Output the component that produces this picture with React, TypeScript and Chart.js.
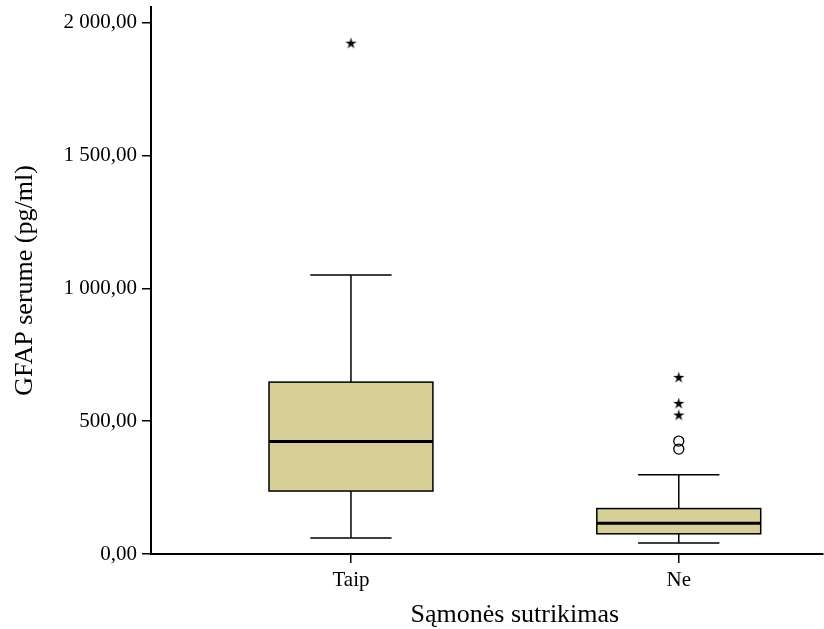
import React, { useEffect, useRef } from 'react';
import { Chart, registerables } from 'chart.js';

Chart.register(...registerables);

// ---- Data ----
const categories = ['Taip', 'Ne'];
const whiskerLow = [60, 41];
const q1 = [237, 76];
const median = [423, 116];
const q3 = [647, 171];
const whiskerHigh = [1050, 298];
const circleOutliersTaip: number[] = [];
const circleOutliersNe = [395, 425];
const starOutliersTaip = [1923];
const starOutliersNe = [523, 567, 665];
const yTickValues = [0, 500, 1000, 1500, 2000];
const yTickLabels = ['0,00', '500,00', '1 000,00', '1 500,00', '2 000,00'];
const xTitle = 'Sąmonės sutrikimas';
const yTitle = 'GFAP serume (pg/ml)';

// ---- Styles ----
const FONT = "'Liberation Serif', 'Times New Roman', serif";
const BOX_COLOR = '#D6D098';
const BOX_HALF = 0.25;
const CAP_HALF = 0.124;

const boxPlugin = {
  id: 'boxes',
  beforeDatasetsDraw(chart: any) {
    const { ctx, scales } = chart;
    const x = scales.x;
    const y = scales.y;
    ctx.save();
    categories.forEach((_, i) => {
      const pos = i + 1;
      const cx = x.getPixelForValue(pos);
      const hw = x.getPixelForValue(pos + BOX_HALF) - cx;
      const cw = x.getPixelForValue(pos + CAP_HALF) - cx;
      const yLo = y.getPixelForValue(whiskerLow[i]);
      const yQ1 = y.getPixelForValue(q1[i]);
      const yMed = y.getPixelForValue(median[i]);
      const yQ3 = y.getPixelForValue(q3[i]);
      const yHi = y.getPixelForValue(whiskerHigh[i]);

      ctx.strokeStyle = '#000';
      ctx.lineWidth = 1.5;
      ctx.beginPath();
      ctx.moveTo(cx, yLo);
      ctx.lineTo(cx, yQ1);
      ctx.moveTo(cx, yQ3);
      ctx.lineTo(cx, yHi);
      ctx.moveTo(cx - cw, yLo);
      ctx.lineTo(cx + cw, yLo);
      ctx.moveTo(cx - cw, yHi);
      ctx.lineTo(cx + cw, yHi);
      ctx.stroke();

      ctx.fillStyle = BOX_COLOR;
      ctx.fillRect(cx - hw, yQ3, 2 * hw, yQ1 - yQ3);
      ctx.strokeRect(cx - hw, yQ3, 2 * hw, yQ1 - yQ3);

      ctx.lineWidth = 3;
      ctx.beginPath();
      ctx.moveTo(cx - hw, yMed);
      ctx.lineTo(cx + hw, yMed);
      ctx.stroke();
    });
    ctx.restore();
  },
  afterDraw(chart: any) {
    // x-axis title centred between the two categories
    const { ctx, scales } = chart;
    const x = scales.x;
    const cx = x.getPixelForValue((1 + categories.length) / 2);
    ctx.save();
    ctx.font = `26px ${FONT}`;
    ctx.fillStyle = '#000';
    ctx.textAlign = 'center';
    ctx.textBaseline = 'middle';
    ctx.fillText(xTitle, cx, x.bottom - 14);
    ctx.restore();
  },
};

function makeStar(): HTMLCanvasElement {
  const c = document.createElement('canvas');
  c.width = 13;
  c.height = 13;
  const g = c.getContext('2d')!;
  const R = 6;
  const r = 2.1;
  g.fillStyle = '#000';
  g.beginPath();
  for (let k = 0; k < 10; k++) {
    const ang = -Math.PI / 2 + (k * Math.PI) / 5;
    const rad = k % 2 === 0 ? R : r;
    const px = 6.5 + rad * Math.cos(ang);
    const py = 6.8 + rad * Math.sin(ang);
    if (k === 0) g.moveTo(px, py);
    else g.lineTo(px, py);
  }
  g.closePath();
  g.fill();
  return c;
}

function zeroPad(s: any) {
  s.paddingLeft = 0;
  s.paddingRight = 0;
  s.paddingTop = 0;
  s.paddingBottom = 0;
}

export default function App() {
  const ref = useRef<HTMLCanvasElement>(null);

  useEffect(() => {
    if (!ref.current) return;
    const star = makeStar();
    const chart = new Chart(ref.current, {
      type: 'scatter',
      data: {
        datasets: [
          {
            label: 'outliers',
            data: [
              ...circleOutliersTaip.map((v) => ({ x: 1, y: v })),
              ...circleOutliersNe.map((v) => ({ x: 2, y: v })),
            ],
            pointStyle: 'circle',
            pointRadius: 5,
            pointHoverRadius: 5,
            borderColor: '#000',
            backgroundColor: 'rgba(255,255,255,0)',
            borderWidth: 1.3,
          },
          {
            label: 'extremes',
            data: [
              ...starOutliersTaip.map((v) => ({ x: 1, y: v })),
              ...starOutliersNe.map((v) => ({ x: 2, y: v })),
            ],
            pointStyle: star as any,
            pointRadius: 6,
            borderColor: '#000',
            backgroundColor: '#000',
          },
        ],
      },
      options: {
        animation: false,
        responsive: false,
        devicePixelRatio: 1,
        layout: { padding: { top: 7, right: 0, bottom: 0, left: 0 } },
        plugins: {
          legend: { display: false },
          tooltip: { enabled: false },
        },
        scales: {
          x: {
            type: 'linear',
            min: 0.39,
            max: 2.44,
            afterBuildTicks: (s: any) => {
              s.ticks = categories.map((_, i) => ({ value: i + 1 }));
            },
            afterFit: (s: any) => {
              s.height = 75;
              zeroPad(s);
            },
            ticks: {
              callback: (v: any) => categories[Math.round(Number(v)) - 1] ?? '',
              font: { family: FONT, size: 21 },
              color: '#000',
              padding: 5,
              maxRotation: 0,
              autoSkip: false,
            },
            grid: {
              display: true,
              drawOnChartArea: false,
              drawTicks: true,
              tickLength: 9,
              color: '#000',
              lineWidth: 1.5,
            },
            border: { display: true, color: '#000', width: 2 },
            title: { display: false },
          },
          y: {
            type: 'linear',
            min: 0,
            max: 2059,
            afterBuildTicks: (s: any) => {
              s.ticks = yTickValues.map((v) => ({ value: v }));
            },
            afterFit: (s: any) => {
              s.width = 151;
              zeroPad(s);
            },
            ticks: {
              callback: (v: any) => {
                const idx = yTickValues.indexOf(Number(v));
                return idx >= 0 ? yTickLabels[idx] : '';
              },
              font: { family: FONT, size: 21 },
              color: '#000',
              padding: 5,
              autoSkip: false,
            },
            grid: {
              display: true,
              drawOnChartArea: false,
              drawTicks: true,
              tickLength: 9,
              color: '#000',
              lineWidth: 1.5,
            },
            border: { display: true, color: '#000', width: 2 },
            title: {
              display: true,
              text: yTitle,
              font: { family: FONT, size: 26, lineHeight: 1 },
              color: '#000',
              padding: { top: 12, bottom: 0 },
            },
          },
        },
      },
      plugins: [boxPlugin],
    });
    return () => chart.destroy();
  }, []);

  return (
    <div style={{ position: 'absolute', left: 0, top: 0, width: 824, height: 629, overflow: 'hidden', background: '#fff' }}>
      <canvas ref={ref} width={830} height={629} style={{ display: 'block' }} />
    </div>
  );
}
